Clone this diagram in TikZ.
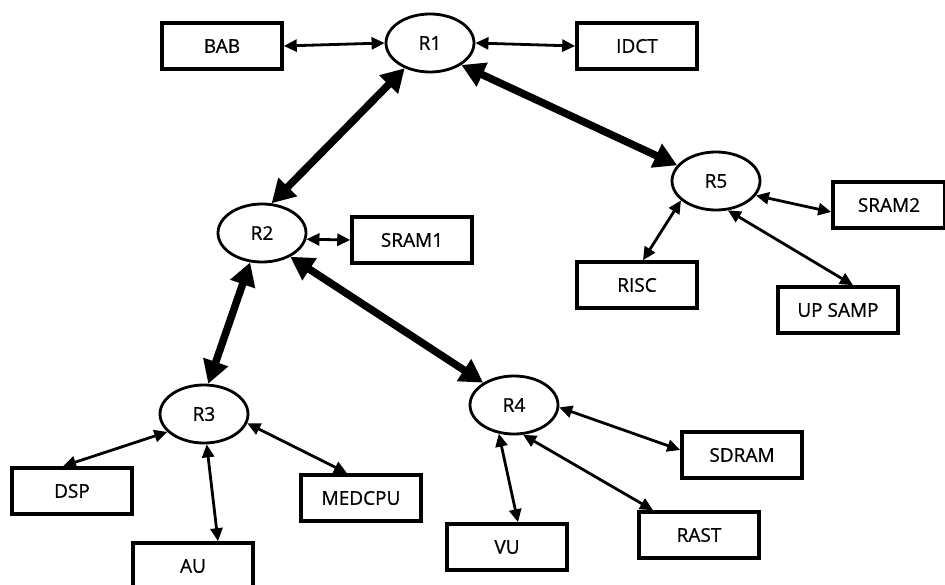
\documentclass[tikz,border=0pt]{standalone}
\usepackage{fontspec}
\setmainfont{Open Sans}[FakeBold=0.8]
\usetikzlibrary{arrows.meta,shapes.geometric}
\begin{document}
\begin{tikzpicture}[x=1pt,y=-1pt,
  router/.style={ellipse,draw,line width=2.8pt,minimum width=88pt,minimum height=58pt,inner sep=0pt,font=\fontsize{19}{21}\selectfont},
  unit/.style={rectangle,draw,line width=3.6pt,minimum width=120pt,minimum height=46pt,inner sep=0pt,font=\fontsize{19}{21}\selectfont},
  link/.style={line width=2.8pt,{Triangle[length=13pt,width=12pt]}-{Triangle[length=13pt,width=12pt]}},
  trunk/.style={line width=7.5pt,{Triangle[length=23pt,width=25pt]}-{Triangle[length=23pt,width=25pt]}}]
\useasboundingbox (0,0) rectangle (945,585);
\clip (0,0) rectangle (945,585);
\fill[white] (0,0) rectangle (945,585);
% routers
\node[router] (R1) at (430,43) {R1};
\node[router] (R5) at (716,181) {R5};
\node[router] (R2) at (262,233) {R2};
\node[router] (R3) at (204,414) {R3};
\node[router] (R4) at (514,405) {R4};
% units
\node[unit] (BAB) at (222,46) {BAB};
\node[unit] (IDCT) at (637,46) {IDCT};
\node[unit,minimum width=112pt] (SRAM2) at (889,205) {SRAM2};
\node[unit] (RISC) at (637,285) {RISC};
\node[unit] (UPSAMP) at (838,310) {UP SAMP};
\node[unit] (SRAM1) at (412,240) {SRAM1};
\node[unit] (DSP) at (72,491) {DSP};
\node[unit] (AU) at (193,566) {AU};
\node[unit] (MEDCPU) at (361,498) {MEDCPU};
\node[unit] (VU) at (507,547) {VU};
\node[unit] (RAST) at (699,535) {RAST};
\node[unit] (SDRAM) at (742,455) {SDRAM};
% thick links
\draw[trunk] (R1.225) -- (R2.72);
\draw[trunk] (R1.325) -- (R5.158);
\draw[trunk] (R2.248) -- (R3.82);
\draw[trunk] (R2.320) -- (R4.144);
% thin links
\draw[link] (BAB.east) -- (R1.west);
\draw[link] (R1.east) -- (IDCT.west);
\draw[link] (R5.-20) -- ([yshift=-7pt]SRAM2.west);
\draw[link] (R5.209) -- ([xshift=6pt]RISC.north);
\draw[link] (R5.292) -- ([xshift=15pt]UPSAMP.north);
\draw[link] (R2.-8) -- (SRAM1.west);
\draw[link] (R3.206) -- ([xshift=-9pt]DSP.north);
\draw[link] (R3.275) -- ([xshift=25pt]AU.north);
\draw[link] (R3.348) -- ([xshift=-14pt]MEDCPU.north);
\draw[link] (R4.-3) -- ([yshift=5pt]SDRAM.west);
\draw[link] (R4.242) -- ([xshift=11pt]VU.north);
\draw[link] (R4.287) -- ([xshift=-46pt]RAST.north);
\end{tikzpicture}
\end{document}
